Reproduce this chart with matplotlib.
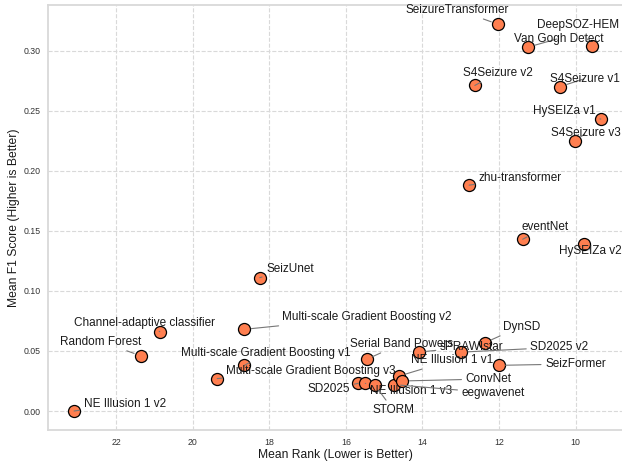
import matplotlib
matplotlib.use("Agg")
import matplotlib.pyplot as plt

# data
models = ["SeizureTransformer", "Van Gogh Detect", "DeepSOZ-HEM", "S4Seizure v2",
          "S4Seizure v1", "HySEIZa v1", "S4Seizure v3", "zhu-transformer",
          "eventNet", "HySEIZa v2", "SeizUnet", "Channel-adaptive classifier",
          "Random Forest", "Multi-scale Gradient Boosting v2",
          "Multi-scale Gradient Boosting v1", "Multi-scale Gradient Boosting v3",
          "NE Illusion 1 v2", "Serial Band Powers", "sPRAWIstar", "SD2025 v2",
          "DynSD", "SeizFormer", "SD2025", "NE Illusion 1 v3", "STORM",
          "eegwavenet", "NE Illusion 1 v1", "ConvNet"]
mean_rank = [12.03, 11.23, 9.58, 12.63, 10.41, 9.34, 10.02, 12.78,
             11.38, 9.78, 18.25, 20.86, 21.36, 18.65, 18.65, 19.36,
             23.10, 15.46, 14.09, 12.99, 12.36, 12.01, 15.68, 15.49, 15.25,
             14.75, 14.62, 14.52]
mean_f1 = [0.322, 0.303, 0.304, 0.271, 0.270, 0.243, 0.225, 0.188,
           0.143, 0.139, 0.111, 0.066, 0.046, 0.068, 0.038, 0.027,
           0.000, 0.043, 0.049, 0.049, 0.057, 0.038, 0.023, 0.023, 0.022,
           0.022, 0.029, 0.025]

# label placement (data coords of text centre)
label_pos = {
    "SeizureTransformer": (13.08, 0.334), "Van Gogh Detect": (10.45, 0.310),
    "DeepSOZ-HEM": (9.93, 0.321), "S4Seizure v2": (12.03, 0.2814),
    "S4Seizure v1": (9.75, 0.2767), "HySEIZa v1": (10.29, 0.2494),
    "S4Seizure v3": (9.73, 0.2311), "zhu-transformer": (11.44, 0.1939),
    "eventNet": (10.79, 0.1528), "HySEIZa v2": (9.62, 0.1333),
    "SeizUnet": (17.46, 0.118), "Channel-adaptive classifier": (21.27, 0.0736),
    "Random Forest": (22.40, 0.0578),
    "Multi-scale Gradient Boosting v2": (15.45, 0.0783),
    "Multi-scale Gradient Boosting v1": (18.08, 0.0481),
    "Multi-scale Gradient Boosting v3": (16.91, 0.0333),
    "NE Illusion 1 v2": (21.78, 0.0058), "Serial Band Powers": (14.55, 0.0561),
    "sPRAWIstar": (12.71, 0.0536), "SD2025 v2": (10.42, 0.0531),
    "DynSD": (11.42, 0.0703), "SeizFormer": (10.0, 0.0392),
    "SD2025": (16.44, 0.0181), "NE Illusion 1 v3": (14.30, 0.0169),
    "STORM": (14.76, 0.0008), "eegwavenet": (12.15, 0.015),
    "NE Illusion 1 v1": (13.22, 0.0425), "ConvNet": (12.27, 0.0267),
}

plt.rcParams['font.family'] = ['Liberation Sans', 'DejaVu Sans']

fig = plt.figure(figsize=(6.22, 4.63), dpi=100)
ax = fig.add_axes([0.0772, 0.0713, 0.925, 0.918])

ax.scatter(mean_rank, mean_f1, s=75, color="#ff7f50", edgecolor="black",
           linewidth=0.9, zorder=3)

for name, r, f in zip(models, mean_rank, mean_f1):
    tx, ty = label_pos[name]
    ax.annotate(name, xy=(r, f), xytext=(tx, ty), fontsize=8.5, color="#1a1a1a",
                ha="center", va="center", zorder=4,
                arrowprops=dict(arrowstyle="-", color="#777777", lw=0.8,
                                shrinkA=1, shrinkB=5))

ax.set_xlim(23.78, 8.75)
ax.set_ylim(-0.0158, 0.338)
ax.set_xticks([22, 20, 18, 16, 14, 12, 10])
ax.set_yticks([0.0, 0.05, 0.10, 0.15, 0.20, 0.25, 0.30])
ax.set_yticklabels(["0.00", "0.05", "0.10", "0.15", "0.20", "0.25", "0.30"])
ax.tick_params(labelsize=6.3, colors="#333333", length=0)
ax.tick_params(axis="x", pad=5.5)
ax.tick_params(axis="y", pad=5)

ax.grid(True, linestyle="--", color="#d9d9d9", linewidth=0.8, zorder=0)
ax.set_axisbelow(True)
for sp in ax.spines.values():
    sp.set_color("#d9d9d9")
    sp.set_linewidth(1.3)

ax.set_xlabel("Mean Rank (Lower is Better)", fontsize=8.7, color="#1a1a1a", labelpad=2)
ax.set_ylabel("Mean F1 Score (Higher is Better)", fontsize=8.7, color="#1a1a1a", labelpad=3)

fig.savefig("out.png", dpi=100)
